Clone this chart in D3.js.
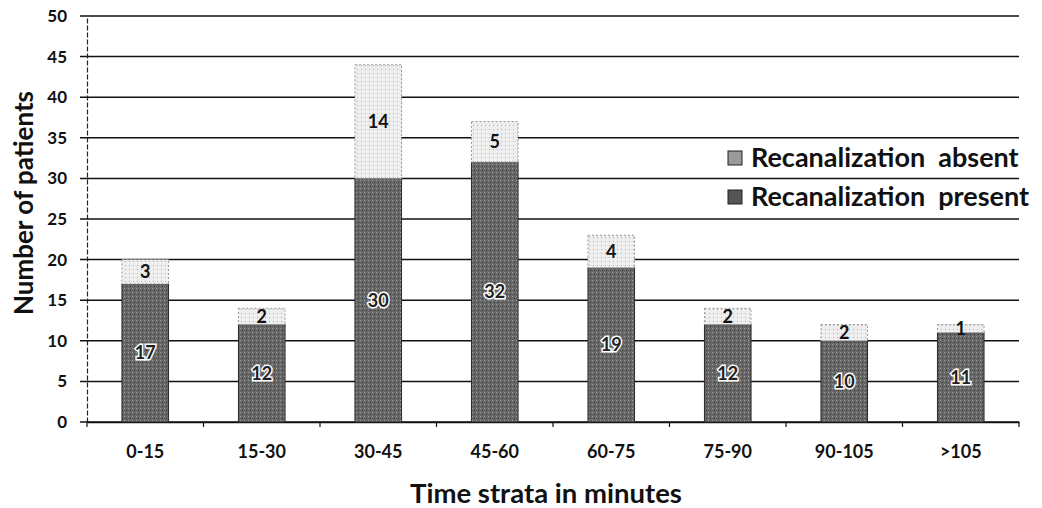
<!DOCTYPE html>
<html>
<head>
<meta charset="utf-8">
<script src="https://cdn.jsdelivr.net/npm/d3@7"></script>
<style>
  html, body { margin: 0; padding: 0; background: #fff; }
  svg { display: block; }
  text { font-family: Lato, "Open Sans", sans-serif; font-weight: 700; }
</style>
</head>
<body>
<svg id="chart" width="1042" height="508"></svg>
<script>
const categories = ["0-15", "15-30", "30-45", "45-60", "60-75", "75-90", "90-105", ">105"];
const present = [17, 12, 30, 32, 19, 12, 10, 11];
const absent = [3, 2, 14, 5, 4, 2, 2, 1];
const yTicks = [0, 5, 10, 15, 20, 25, 30, 35, 40, 45, 50];
const seriesNames = ["Recanalization  absent", "Recanalization  present"];
const yTitle = "Number of patients";
const xTitle = "Time strata in minutes";

const svg = d3.select("#chart");
const m = { left: 87, right: 1019, top: 16, bottom: 422 };

const x = d3.scaleBand().domain(categories).range([m.left, m.right]).paddingInner(0.6).paddingOuter(0.3);
const xb = d3.scaleBand().domain(categories).range([m.left, m.right]);
const y = d3.scaleLinear().domain([0, 50]).range([m.bottom, m.top]);

// patterns for texture
const defs = svg.append("defs");
const pd = defs.append("pattern").attr("id", "pDark").attr("patternUnits", "userSpaceOnUse").attr("width", 4).attr("height", 4);
pd.append("rect").attr("width", 4).attr("height", 4).attr("fill", "#686868");
pd.append("rect").attr("x", 0).attr("y", 0).attr("width", 1).attr("height", 1).attr("fill", "#a0a0a0");
pd.append("rect").attr("x", 2).attr("y", 2).attr("width", 1).attr("height", 1).attr("fill", "#333");
const pl = defs.append("pattern").attr("id", "pLight").attr("patternUnits", "userSpaceOnUse").attr("width", 4).attr("height", 4);
pl.append("rect").attr("width", 4).attr("height", 4).attr("fill", "#eeeeee");
pl.append("rect").attr("x", 1).attr("y", 1).attr("width", 1).attr("height", 1).attr("fill", "#b0b0b0");

// gridlines
svg.append("g").selectAll("line").data(yTicks).join("line")
  .attr("x1", m.left - 7).attr("x2", m.right)
  .attr("y1", d => y(d)).attr("y2", d => y(d))
  .attr("stroke", "#111").attr("stroke-width", 1.5);

// y axis
const yAxis = d3.axisLeft(y).tickValues(yTicks).tickSize(0).tickPadding(20);
const gy = svg.append("g").attr("transform", `translate(${m.left},0)`).call(yAxis);
gy.select(".domain").attr("stroke", "#222").attr("stroke-width", 1.2).attr("stroke-dasharray", "5,2");
gy.selectAll("text").attr("font-size", 17).attr("fill", "#111").attr("font-family", "Lato, sans-serif").attr("font-weight", 700);

// x axis
const xAxis = d3.axisBottom(xb).tickSize(0).tickPadding(23);
const gx = svg.append("g").attr("transform", `translate(0,${m.bottom})`).call(xAxis);
gx.select(".domain").attr("stroke", "#111").attr("stroke-width", 1.5);
gx.selectAll("text").attr("font-size", 18).attr("fill", "#111").attr("font-family", "Lato, sans-serif").attr("font-weight", 700);
// category boundary ticks
svg.append("g").selectAll("line").data(categories.concat(["end"])).join("line")
  .attr("x1", (d, i) => i < categories.length ? xb(d) : m.right)
  .attr("x2", (d, i) => i < categories.length ? xb(d) : m.right)
  .attr("y1", m.bottom).attr("y2", m.bottom + 5)
  .attr("stroke", "#111").attr("stroke-width", 1.2);

// bars
const data = categories.map((c, i) => ({ c, p: present[i], a: absent[i] }));
const bars = svg.append("g");
bars.selectAll("rect.p").data(data).join("rect").attr("class", "p")
  .attr("x", d => x(d.c)).attr("width", x.bandwidth())
  .attr("y", d => y(d.p)).attr("height", d => y(0) - y(d.p))
  .attr("fill", "url(#pDark)").attr("stroke", "#2a2a2a").attr("stroke-width", 1);
bars.selectAll("rect.a").data(data).join("rect").attr("class", "a")
  .attr("x", d => x(d.c)).attr("width", x.bandwidth())
  .attr("y", d => y(d.p + d.a)).attr("height", d => y(d.p) - y(d.p + d.a))
  .attr("fill", "url(#pLight)").attr("stroke", "#999").attr("stroke-width", 1).attr("stroke-dasharray", "2,2");

// labels
svg.append("g").selectAll("text").data(data).join("text")
  .attr("x", d => x(d.c) + x.bandwidth() / 2)
  .attr("y", d => (y(0) + y(d.p)) / 2)
  .attr("text-anchor", "middle").attr("dy", "0.35em")
  .attr("font-size", 18).attr("fill", "#222")
  .attr("stroke", "#fff").attr("stroke-width", 3).attr("paint-order", "stroke")
  .text(d => d.p);
svg.append("g").selectAll("text").data(data).join("text")
  .attr("x", d => x(d.c) + x.bandwidth() / 2)
  .attr("y", d => (y(d.p) + y(d.p + d.a)) / 2)
  .attr("text-anchor", "middle").attr("dy", "0.35em")
  .attr("font-size", 18).attr("fill", "#111")
  .text(d => d.a);

// legend
const leg = svg.append("g");
const legY = [158, 197];
seriesNames.forEach((n, i) => {
  leg.append("rect").attr("x", 728).attr("y", legY[i] - 7).attr("width", 14).attr("height", 14)
    .attr("fill", i === 0 ? "#9a9a9a" : "#555").attr("stroke", "#222").attr("stroke-width", 1);
  leg.append("text").attr("x", 751).attr("y", legY[i]).attr("dy", "0.35em")
    .attr("font-size", 27).attr("fill", "#111").attr("xml:space", "preserve").style("white-space", "pre")
    .text(n);
});

// axis titles
svg.append("text").attr("transform", "translate(24,203) rotate(-90)")
  .attr("text-anchor", "middle").attr("dy", "0.35em")
  .attr("font-size", 26).attr("fill", "#111").text(yTitle);
svg.append("text").attr("x", 546).attr("y", 493).attr("dy", "0.35em")
  .attr("text-anchor", "middle").attr("font-size", 27.5).attr("fill", "#111").text(xTitle);
</script>
</body>
</html>
